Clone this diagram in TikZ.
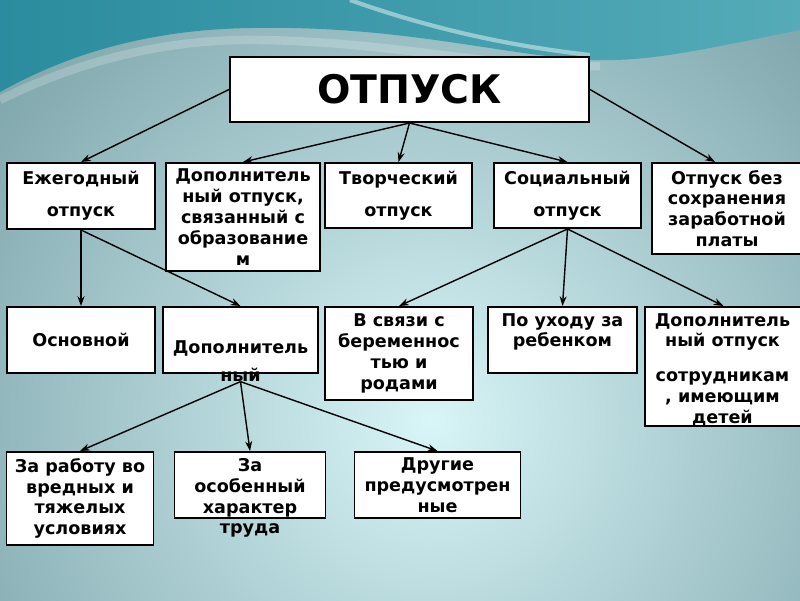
\documentclass[tikz,border=0pt]{standalone}
\usepackage{fontspec}
\setmainfont{DejaVu Sans}
\usetikzlibrary{arrows.meta,positioning}

\definecolor{bgdark}{HTML}{46747C}
\definecolor{bglight}{HTML}{D8F5F7}
\definecolor{seadark}{HTML}{2A8C9E}
\definecolor{sealight}{HTML}{55ABB8}

\tikzset{
  box/.style={draw=black, fill=white, line width=1.4pt, inner sep=1pt,
    font=\bfseries\fontsize{12.5}{14.8}\selectfont, align=center},
  txt/.style={inner sep=0pt, font=\bfseries\fontsize{12.5}{14.8}\selectfont, align=center},
  size/.style 2 args={minimum width=#1*0.025cm, minimum height=#2*0.025cm},
  arr/.style={-{Stealth[length=7pt,width=5pt]}, line width=1pt},
}

\begin{document}
\begin{tikzpicture}[x=0.025cm, y=-0.025cm]
    % Background
    \clip (0,0) rectangle (800,600);
    \fill[bgdark] (0,0) rectangle (800,600);
    \shade[inner color=bglight, outer color=bgdark] (430,420) circle (900);
    \shade[left color=seadark, right color=sealight]
      (0,0) -- (800,0) -- (800,30) .. controls (700,50) and (650,62) .. (590,60)
      .. controls (500,55) and (400,25) .. (250,28)
      .. controls (120,30) and (40,70) .. (0,92) -- cycle;
    \draw[white, opacity=0.2, line width=6pt]
      (0,100) .. controls (60,70) and (150,38) .. (260,40) .. controls (400,42) and (500,70) .. (600,66);
    \draw[white, opacity=0.45, line width=3pt]
      (350,0) .. controls (420,25) and (500,45) .. (590,55);

    % Nodes
    \node[box, size={359}{65}, font=\bfseries\fontsize{28}{30}\selectfont] (otp) at (409.5,89.5) {ОТПУСК};

    \node[box, size={148}{66}] (ezh) at (81,196) {Ежегодный\\[8pt]отпуск};
    \node[box, size={154}{108}] (dobr) at (243,217) {Дополнитель\\ный отпуск,\\связанный с\\образование\\м};
    \node[box, size={147}{65}] (tvor) at (398.5,195.5) {Творческий\\[8pt]отпуск};
    \node[box, size={147}{65}] (soc) at (567.5,195.5) {Социальный\\[8pt]отпуск};
    \node[box, size={150}{91}] (bez) at (727,208.5) {Отпуск без\\сохранения\\заработной\\платы};

    \node[box, size={148}{66}] (osn) at (81,340) {Основной};
    \node[box, size={155}{66}] (dop) at (240.5,340) {};
    \node[txt] (dopt) at (240.5,361) {Дополнитель\\[5pt]ный};
    \node[box, size={148}{93}] (ber) at (399,353.5) {В связи с\\беременнос\\тью и\\родами};
    \node[box, size={149}{66}] (uhod) at (562.5,340) {};
    \node[txt, anchor=north] (uhodt) at (562.5,313) {По уходу за\\ребенком};
    \node[box, size={157}{119}] (sotr) at (723.5,366.5) {};
    \node[txt, anchor=north] (sotrt) at (722.5,313) {Дополнитель\\ный отпуск\\[10pt]сотрудникам\\, имеющим\\детей};

    \node[box, size={147}{93}] (vred) at (80,498.5) {За работу во\\вредных и\\тяжелых\\условиях};
    \node[box, size={151}{66}] (osob) at (250,485) {};
    \node[txt] (osobt) at (250,498) {За\\особенный\\характер\\труда};
    \node[box, size={166}{66}] (drug) at (437.5,485) {Другие\\предусмотрен\\ные};

    % Arrows
    \draw[arr] (otp.west) -- (ezh.north);
    \draw[arr] (otp.south) -- (dobr.north);
    \draw[arr] (otp.south) -- (tvor.north);
    \draw[arr] (otp.south) -- (soc.north);
    \draw[arr] (otp.east) -- ([xshift=-0.3cm]bez.north);

    \draw[arr] (ezh.south) -- (osn.north);
    \draw[arr] (ezh.south) -- (dop.north);

    \draw[arr] (dopt.south) -- (vred.north);
    \draw[arr] (dopt.south) -- (osob.north);
    \draw[arr] (dopt.south) -- (drug.north);

    \draw[arr] (soc.south) -- (ber.north);
    \draw[arr] (soc.south) -- (uhod.north);
    \draw[arr] (soc.south) -- (sotr.north);
\end{tikzpicture}
\end{document}
